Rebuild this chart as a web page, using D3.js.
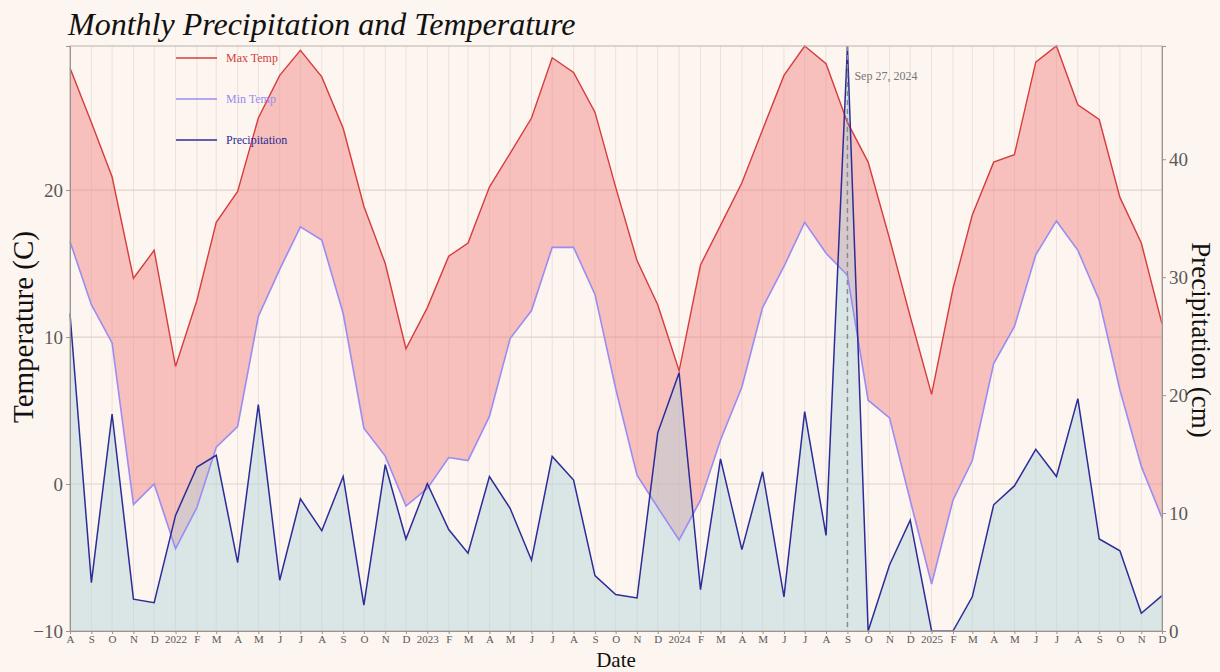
<!DOCTYPE html>
<html>
<head>
<meta charset="utf-8">
<script src="https://cdn.jsdelivr.net/npm/d3@7"></script>
<style>
  html, body { margin: 0; padding: 0; background: #fdf5ef; }
  svg { display: block; font-family: "Liberation Serif", "DejaVu Serif", serif; }
</style>
</head>
<body>
<svg id="chart" width="1220" height="672"></svg>
<script>
// Monthly series, Aug 2021 through Dec 2025
const firstMonth = "2021-08-01";
const lastMonth = "2025-12-01";

// Temperatures in °C
const maxTemp = [
  28.3, 24.6, 20.9, 14.0, 15.9,
  8.0, 12.5, 17.8, 19.9, 24.9, 27.8, 29.5, 27.7, 24.2, 18.9, 15.0, 9.2,
  12.0, 15.5, 16.4, 20.2, 22.5, 24.9, 29.0, 28.0, 25.3, 20.2, 15.2, 12.2,
  7.7, 14.9, 17.6, 20.5, 24.1, 27.8, 29.8, 28.6, 24.6, 21.9, 16.7, 11.4,
  6.1, 13.3, 18.3, 21.9, 22.4, 28.7, 29.8, 25.8, 24.8, 19.5, 16.4, 10.9
];
const minTemp = [
  16.5, 12.2, 9.6, -1.4, 0.0,
  -4.4, -1.6, 2.5, 3.9, 11.4, 14.6, 17.5, 16.6, 11.6, 3.8, 1.9, -1.5,
  -0.3, 1.8, 1.6, 4.6, 9.9, 11.8, 16.1, 16.1, 12.9, 6.5, 0.6, -1.6,
  -3.8, -1.1, 3.0, 6.6, 12.0, 14.8, 17.8, 15.7, 14.2, 5.7, 4.5, -1.1,
  -6.8, -1.1, 1.6, 8.2, 10.7, 15.6, 17.9, 15.9, 12.5, 6.4, 1.2, -2.3
];
// Precipitation in cm
const precip = [
  26.9, 4.1, 18.4, 2.7, 2.4,
  9.8, 13.9, 14.9, 5.8, 19.2, 4.3, 11.2, 8.5, 13.1, 2.2, 14.1, 7.8,
  12.5, 8.6, 6.6, 13.1, 10.4, 6.0, 14.8, 12.8, 4.7, 3.1, 2.8, 16.8,
  21.9, 3.5, 14.6, 6.9, 13.5, 2.9, 18.6, 8.1, 49.6, 0.0, 5.6, 9.4,
  0.0, 0.0, 2.9, 10.7, 12.3, 15.4, 13.1, 19.7, 7.8, 6.8, 1.5, 3.0
];

const tempTicks = [-10, 0, 10, 20];
const precipTicks = [0, 10, 20, 30, 40];
const seriesNames = ["Max Temp", "Min Temp", "Precipitation"];
const markerMonth = "2024-09-01";
const markerLabel = "Sep 27, 2024";

const colors = {
  hi: "#d63c3c",
  lo: "#9a8cf2",
  rain: "#2c2c98",
  band: "#f08080",
  rainFill: "#afd3dc"
};

const W = 1220, H = 672;
const margin = { top: 46, right: 58, bottom: 41, left: 70 };
const svg = d3.select("#chart");

const parse = d3.utcParse("%Y-%m-%d");
const months = d3.utcMonth.range(parse(firstMonth), d3.utcMonth.offset(parse(lastMonth), 1));
const rows = months.map((date, i) => ({ date, hi: maxTemp[i], lo: minTemp[i], p: precip[i] }));

const x = d3.scaleUtc().domain(d3.extent(months)).range([margin.left, W - margin.right]);
const yT = d3.scaleLinear().domain([-10, d3.max(maxTemp)]).range([H - margin.bottom, margin.top]);
const yP = d3.scaleLinear().domain([0, d3.max(precip)]).range([H - margin.bottom, margin.top]);

const plotTop = margin.top, plotBottom = H - margin.bottom;
const plotLeft = margin.left, plotRight = W - margin.right;

// background
svg.append("rect").attr("width", W).attr("height", H).attr("fill", "#fdf5ef");

// grid
const grid = svg.append("g");
grid.selectAll("line.v").data(months).join("line")
  .attr("x1", d => x(d)).attr("x2", d => x(d))
  .attr("y1", plotTop).attr("y2", plotBottom)
  .attr("stroke", "#ece1da").attr("stroke-width", 1);
grid.selectAll("line.h").data(tempTicks.filter(t => t > -10)).join("line")
  .attr("x1", plotLeft).attr("x2", plotRight)
  .attr("y1", d => yT(d)).attr("y2", d => yT(d))
  .attr("stroke", "#e0d3c9").attr("stroke-width", 1.2);

// temperature band
svg.append("path").datum(rows)
  .attr("d", d3.area().x(d => x(d.date)).y0(d => yT(d.lo)).y1(d => yT(d.hi)))
  .attr("fill", colors.band).attr("fill-opacity", 0.45);

// precipitation area
svg.append("path").datum(rows)
  .attr("d", d3.area().x(d => x(d.date)).y0(yP(0)).y1(d => yP(d.p)))
  .attr("fill", colors.rainFill).attr("fill-opacity", 0.45);

// lines
const lineOf = (acc, scale) => d3.line().x(d => x(d.date)).y(d => scale(acc(d)));
svg.append("path").datum(rows).attr("d", lineOf(d => d.hi, yT))
  .attr("fill", "none").attr("stroke", colors.hi).attr("stroke-width", 1.4);
svg.append("path").datum(rows).attr("d", lineOf(d => d.lo, yT))
  .attr("fill", "none").attr("stroke", colors.lo).attr("stroke-width", 1.6);
svg.append("path").datum(rows).attr("d", lineOf(d => d.p, yP))
  .attr("fill", "none").attr("stroke", colors.rain).attr("stroke-width", 1.5);

// marker for the wettest month
const mx = x(parse(markerMonth));
svg.append("line")
  .attr("x1", mx).attr("x2", mx).attr("y1", plotTop).attr("y2", plotBottom)
  .attr("stroke", "#8a8a8a").attr("stroke-width", 1.5).attr("stroke-dasharray", "5,4");
svg.append("text").attr("x", mx + 7).attr("y", 80)
  .attr("font-size", 12).attr("fill", "#777").text(markerLabel);

// panel border
svg.append("rect").attr("x", plotLeft).attr("y", plotTop)
  .attr("width", plotRight - plotLeft).attr("height", plotBottom - plotTop)
  .attr("fill", "none").attr("stroke", "#b9b1ab").attr("stroke-width", 1);

// axes
const monthLetter = d3.utcFormat("%b");
const styleAxis = g => {
  g.selectAll(".domain").attr("stroke", "#9a9390");
  g.selectAll(".tick line").attr("stroke", "#9a9390");
  g.selectAll(".tick text").attr("fill", "#5a5a5a").attr("font-family", "Liberation Serif, serif");
};

svg.append("g").attr("transform", `translate(0,${plotBottom})`)
  .call(d3.axisBottom(x).tickValues(months).tickSize(3).tickPadding(1)
    .tickFormat(d => d.getUTCMonth() === 0 ? d.getUTCFullYear() : monthLetter(d)[0]))
  .call(styleAxis)
  .call(g => g.selectAll(".tick text").attr("font-size", 11));

svg.append("g").attr("transform", `translate(${plotLeft},0)`)
  .call(d3.axisLeft(yT).tickValues(tempTicks).tickSize(4).tickPadding(3))
  .call(styleAxis)
  .call(g => g.selectAll(".tick text").attr("font-size", 19));

svg.append("g").attr("transform", `translate(${plotRight},0)`)
  .call(d3.axisRight(yP).tickValues(precipTicks).tickSize(4).tickPadding(3))
  .call(styleAxis)
  .call(g => g.selectAll(".tick text").attr("font-size", 19));

// titles
svg.append("text").attr("x", 68).attr("y", 35)
  .attr("font-size", 32).attr("font-style", "italic").attr("fill", "#111")
  .text("Monthly Precipitation and Temperature");
svg.append("text").attr("x", 616).attr("y", 667)
  .attr("text-anchor", "middle").attr("font-size", 21).attr("fill", "#111").text("Date");
svg.append("text").attr("transform", "translate(33,327) rotate(-90)")
  .attr("text-anchor", "middle").attr("font-size", 29).attr("fill", "#111").text("Temperature (C)");
svg.append("text").attr("transform", "translate(1192,340) rotate(90)")
  .attr("text-anchor", "middle").attr("font-size", 27).attr("fill", "#111").text("Precipitation (cm)");

// legend
const legendColors = [colors.hi, colors.lo, colors.rain];
const legend = svg.append("g").selectAll("g").data(seriesNames).join("g")
  .attr("transform", (d, i) => `translate(176,${58 + i * 41})`);
legend.append("line").attr("x1", 0).attr("x2", 41)
  .attr("stroke", (d, i) => legendColors[i]).attr("stroke-width", 1.5);
legend.append("text").attr("x", 50).attr("y", 4)
  .attr("font-size", 12).attr("fill", (d, i) => legendColors[i]).text(d => d);
</script>
</body>
</html>
